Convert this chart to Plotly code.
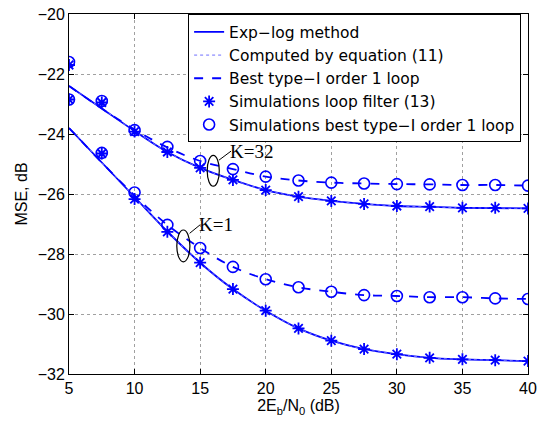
import plotly.graph_objects as go

snr = [5, 7.5, 10, 12.5, 15, 17.5, 20, 22.5, 25, 27.5, 30, 32.5, 35, 37.5, 40]

# Exp-log method (solid)
explog_k32 = [-22.4, -23.15, -23.9, -24.6, -25.13, -25.53, -25.87, -26.09, -26.23, -26.33, -26.4, -26.43, -26.46, -26.47, -26.48]
explog_k1 = [-23.8, -24.95, -26.1, -27.25, -28.29, -29.17, -29.89, -30.48, -30.89, -31.17, -31.34, -31.46, -31.51, -31.54, -31.57]
# Computed by equation (11) (dotted)
eq11_k32 = [-22.4, -23.15, -23.9, -24.6, -25.13, -25.53, -25.87, -26.09, -26.23, -26.33, -26.4, -26.43, -26.46, -26.47, -26.48]
eq11_k1 = [-23.8, -24.95, -26.1, -27.25, -28.29, -29.17, -29.89, -30.48, -30.89, -31.17, -31.34, -31.46, -31.51, -31.54, -31.57]
# Best type-I order 1 loop (dashed)
best_k32 = [-22.4, -23.15, -23.85, -24.45, -24.9, -25.17, -25.42, -25.55, -25.62, -25.65, -25.67, -25.68, -25.7, -25.7, -25.72]
best_k1 = [-23.8, -24.95, -26.05, -27.03, -27.8, -28.43, -28.84, -29.11, -29.26, -29.37, -29.4, -29.44, -29.44, -29.48, -29.5]
# Simulations loop filter (13) (stars)
sim13_k32 = [-21.7, -22.95, -23.92, -24.6, -25.13, -25.53, -25.87, -26.09, -26.23, -26.33, -26.4, -26.42, -26.46, -26.46, -26.48]
sim13_k1 = [-22.85, -24.65, -26.17, -27.26, -28.29, -29.17, -29.89, -30.48, -30.89, -31.17, -31.34, -31.46, -31.51, -31.54, -31.57]
# Simulations best type-I order 1 loop (circles)
simbest_k32 = [-21.6, -22.9, -23.87, -24.43, -24.9, -25.17, -25.42, -25.55, -25.62, -25.65, -25.67, -25.68, -25.7, -25.7, -25.72]
simbest_k1 = [-22.85, -24.63, -25.95, -27.03, -27.8, -28.43, -28.84, -29.11, -29.26, -29.37, -29.4, -29.44, -29.44, -29.48, -29.5]

xticks = [5, 10, 15, 20, 25, 30, 35, 40]
yticks = [-20, -22, -24, -26, -28, -30, -32]
ytick_text = ["\u221220", "\u221222", "\u221224", "\u221226", "\u221228", "\u221230", "\u221232"]

BLUE = "rgb(0,0,255)"


def join(a, b):
    return a + [None] + b


xx = snr + [None] + snr

fig = go.Figure()
fig.add_trace(go.Scatter(x=xx, y=join(explog_k32, explog_k1), mode="lines",
                         line=dict(color=BLUE, width=1.8, shape="spline"),
                         name="Exp\u2212log method"))
fig.add_trace(go.Scatter(x=xx, y=join(eq11_k32, eq11_k1), mode="lines",
                         line=dict(color="rgb(110,110,255)", width=1, dash="dot", shape="spline"),
                         name="Computed by equation (11)"))
fig.add_trace(go.Scatter(x=xx, y=join(best_k32, best_k1), mode="lines",
                         line=dict(color=BLUE, width=1.8, dash="dash", shape="spline"),
                         name="Best type\u2212I order 1 loop"))
fig.add_trace(go.Scatter(x=xx, y=join(sim13_k32, sim13_k1), mode="markers",
                         marker=dict(symbol="asterisk-open", size=10, color=BLUE,
                                     line=dict(color=BLUE, width=1.8)),
                         name="Simulations loop filter (13)"))
fig.add_trace(go.Scatter(x=xx, y=join(simbest_k32, simbest_k1), mode="markers",
                         marker=dict(symbol="circle-open", size=11, color=BLUE, line=dict(color=BLUE, width=1.6)),
                         name="Simulations best type\u2212I order 1 loop"))

# ellipses and labels
fig.add_shape(type="circle", xref="x", yref="y", x0=15.54, x1=16.46, y0=-25.74, y1=-24.71,
              line=dict(color="black", width=1.2))
fig.add_shape(type="line", xref="x", yref="y", x0=16.44, y0=-24.87, x1=17.36, y1=-24.57,
              line=dict(color="black", width=1))
fig.add_annotation(x=17.36, y=-24.57, text="K=32", showarrow=False, xanchor="left", yanchor="middle",
                   xshift=-3, font=dict(family="Liberation Serif", size=19, color="black"))
fig.add_shape(type="circle", xref="x", yref="y", x0=13.22, x1=14.22, y0=-28.26, y1=-27.2,
              line=dict(color="black", width=1.2))
fig.add_shape(type="line", xref="x", yref="y", x0=14.2, y0=-27.31, x1=14.99, y1=-27.03,
              line=dict(color="black", width=1))
fig.add_annotation(x=14.99, y=-27.0, text="K=1", showarrow=False, xanchor="left", yanchor="middle",
                   xshift=-3, font=dict(family="Liberation Serif", size=19, color="black"))

axis_common = dict(showline=True, linecolor="black", linewidth=1, mirror="ticks", ticks="inside",
                   ticklen=5, tickcolor="black", showgrid=True, gridcolor="rgb(160,160,160)",
                   griddash="dot", gridwidth=1, zeroline=False, automargin=False,
                   tickfont=dict(family="Liberation Sans", size=16, color="black"))

fig.update_xaxes(range=[5, 40], tickvals=xticks,
                 title=dict(text="2E<sub>b</sub>/N<sub>0</sub> (dB)", standoff=0,
                            font=dict(family="Liberation Sans", size=16, color="black")),
                 **axis_common)
fig.update_yaxes(range=[-32, -20], tickvals=yticks, ticktext=ytick_text,
                 title=dict(text="MSE, dB", standoff=6,
                            font=dict(family="Liberation Sans", size=16, color="black")),
                 **axis_common)

fig.update_layout(width=538, height=423, margin=dict(l=69, r=10, t=14, b=49),
                  paper_bgcolor="white", plot_bgcolor="white",
                  font=dict(family="Liberation Sans", color="black"),
                  legend=dict(x=0.985, y=0.999, xanchor="right", yanchor="top",
                              bgcolor="white", bordercolor="black", borderwidth=1,
                              font=dict(family="DejaVu Sans", size=15.5, color="black"),
                              tracegroupgap=0, itemwidth=30))

fig.write_html("out.html", config={"displayModeBar": False},
               post_script="document.body.style.margin='0';")
